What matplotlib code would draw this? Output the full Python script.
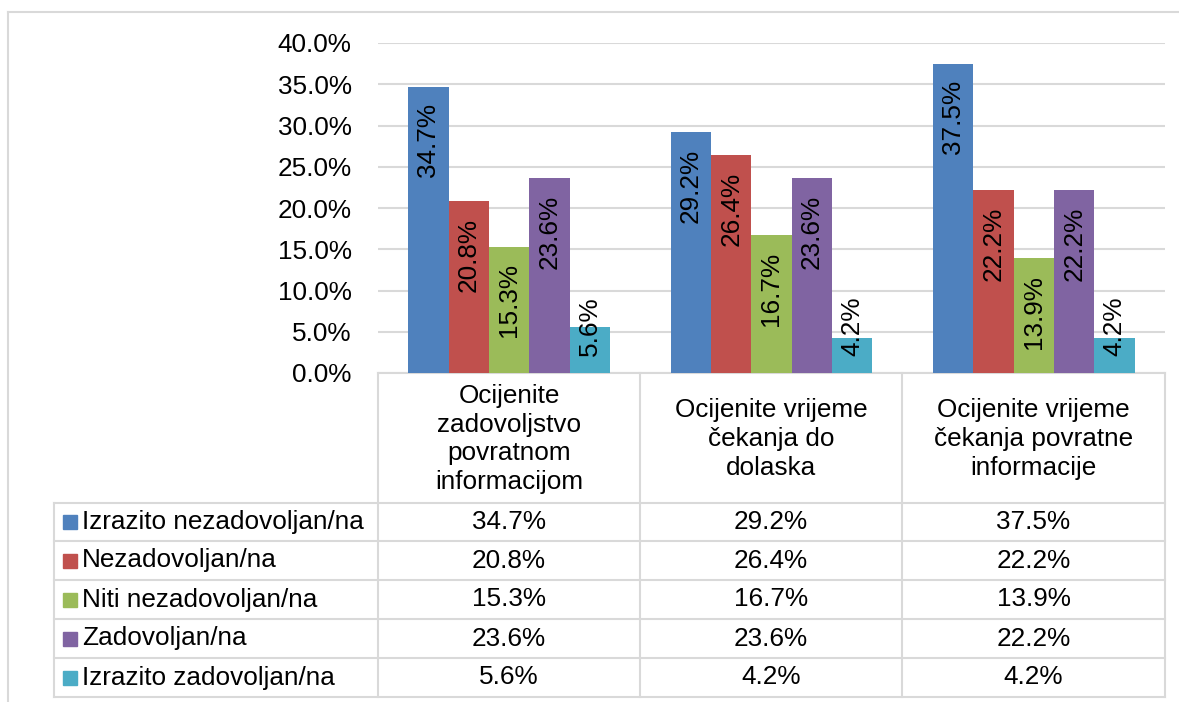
import numpy as np
import matplotlib
matplotlib.use('Agg')
import matplotlib.pyplot as plt
from matplotlib.patches import Rectangle

plt.rcParams['font.family'] = ['Liberation Sans', 'DejaVu Sans']

# podaci
categories = ['Ocijenite\nzadovoljstvo\npovratnom\ninformacijom',
              'Ocijenite vrijeme\nčekanja do\ndolaska',
              'Ocijenite vrijeme\nčekanja povratne\ninformacije']
series_names = ['Izrazito nezadovoljan/na', 'Nezadovoljan/na', 'Niti nezadovoljan/na',
                'Zadovoljan/na', 'Izrazito zadovoljan/na']
izrazito_nezad = [34.7, 29.2, 37.5]
nezad = [20.8, 26.4, 22.2]
niti = [15.3, 16.7, 13.9]
zad = [23.6, 23.6, 22.2]
izrazito_zad = [5.6, 4.2, 4.2]
series_values = [izrazito_nezad, nezad, niti, zad, izrazito_zad]
colors = ['#4F81BD', '#C0504D', '#9BBB59', '#8064A2', '#4BACC6']
y_ticks = [0, 5, 10, 15, 20, 25, 30, 35, 40]

W, H = 1179, 702
FS = 18.8
GRID = '#D9D9D9'

fig = plt.figure(figsize=(W / 100, H / 100), dpi=100)

# pozadinska os u pikselima (okvir i tablica)
ov = fig.add_axes([0, 0, 1, 1])
ov.set_xlim(0, W)
ov.set_ylim(H, 0)
ov.axis('off')

# okvir grafikona
ov.plot([8, W + 5], [12, 12], color=GRID, lw=1.5)
ov.plot([8, 8], [12, H + 5], color=GRID, lw=1.5)

# os sa stupcima
px_l, px_r, px_t, px_b = 378, 1165, 43, 373
ax = fig.add_axes([px_l / W, 1 - px_b / H, (px_r - px_l) / W, (px_b - px_t) / H])
ax.set_ylim(0, 40)
ax.set_xlim(-0.5, len(categories) - 0.5)
ax.set_yticks(y_ticks)
ax.set_yticklabels(['%.1f%%' % t for t in y_ticks], fontsize=FS)
ax.tick_params(axis='y', length=0, pad=19)
ax.set_xticks([])
for s in ax.spines.values():
    s.set_visible(False)
ax.grid(axis='y', color=GRID, lw=1.5)
ax.set_axisbelow(True)
ax.patch.set_alpha(0)

n = len(series_values)
bw = 1.0 / (n + 1.5)
x = np.arange(len(categories))
for i, (vals, c) in enumerate(zip(series_values, colors)):
    xs = x + (i - (n - 1) / 2) * bw
    ax.bar(xs, vals, width=bw, color=c, zorder=2)
    for xx, v in zip(xs, vals):
        if v < 8:
            ax.text(xx, 2.0, '%.1f%%' % v, rotation=90, ha='center', va='bottom',
                    fontsize=FS, zorder=3)
        else:
            ax.text(xx, v - 2.0, '%.1f%%' % v, rotation=90, ha='center', va='top',
                    fontsize=FS, zorder=3)

# tablica podataka
col_x = [378, 640, 902, 1165]
row_y = [503, 541, 580, 619, 658, 697]
lc = GRID
lw = 1.5
ov.plot([col_x[0], col_x[-1]], [px_b, px_b], color=lc, lw=lw)
for yy in row_y:
    ov.plot([54, col_x[-1]], [yy, yy], color=lc, lw=lw)
for xx in col_x:
    ov.plot([xx, xx], [px_b, row_y[-1]], color=lc, lw=lw)
ov.plot([54, 54], [row_y[0], row_y[-1]], color=lc, lw=lw)

for j, cat in enumerate(categories):
    cx = (col_x[j] + col_x[j + 1]) / 2
    ov.text(cx, (px_b + row_y[0]) / 2 + 1, cat, ha='center', va='center',
            fontsize=FS, linespacing=1.25)

for i, (name, vals, c) in enumerate(zip(series_names, series_values, colors)):
    cy = (row_y[i] + row_y[i + 1]) / 2
    ov.add_patch(Rectangle((63, cy - 7), 14, 14, color=c))
    ov.text(82, cy, name, ha='left', va='center', fontsize=FS)
    for j, v in enumerate(vals):
        cx = (col_x[j] + col_x[j + 1]) / 2
        ov.text(cx, cy, '%.1f%%' % v, ha='center', va='center', fontsize=FS)

fig.savefig('out.png', dpi=100)
